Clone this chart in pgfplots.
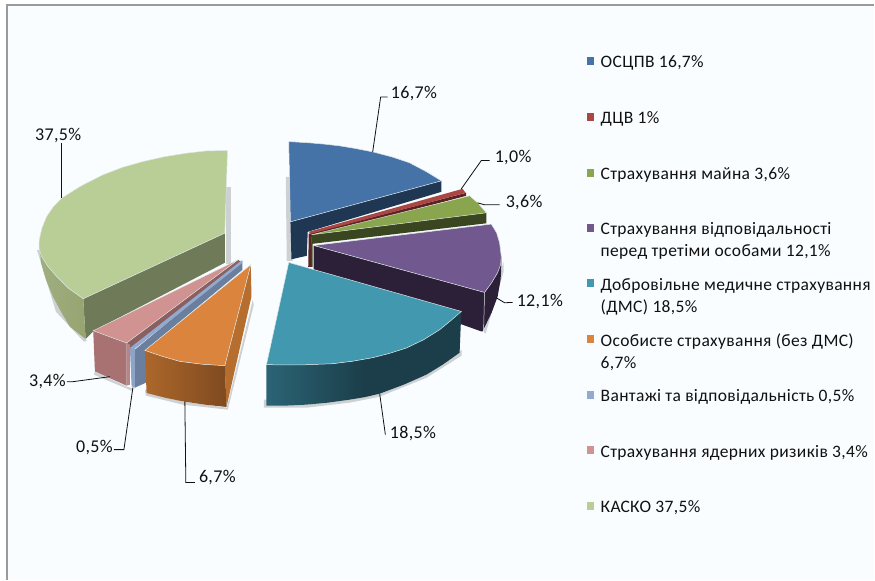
\documentclass[border=0pt]{standalone}
\usepackage{pgfplots}
\usepackage{fontspec}
\setmainfont{Carlito}
\newfontface\legfont[LetterSpace=2]{Carlito}
\newfontface\datfont[LetterSpace=2]{Carlito}
\pgfplotsset{compat=1.18}
\definecolor{bg}{HTML}{F9FDFF}
\definecolor{frm}{HTML}{9A9A9A}
\definecolor{shd}{HTML}{CDD1D3}
\definecolor{bluT}{HTML}{4572A7}\definecolor{bluS}{HTML}{1F3752}
\definecolor{redT}{HTML}{AA4643}\definecolor{redS}{HTML}{5A2422}
\definecolor{grnT}{HTML}{89A54E}\definecolor{grnS}{HTML}{3A461F}
\definecolor{purT}{HTML}{71588F}\definecolor{purS}{HTML}{2C2038}
\definecolor{teaT}{HTML}{4198AF}\definecolor{teaS}{HTML}{1B3E4A}\definecolor{teaL}{HTML}{2B6475}
\definecolor{orgT}{HTML}{DB843D}\definecolor{orgS}{HTML}{B56E2D}\definecolor{orgL}{HTML}{AC672B}\definecolor{orgR}{HTML}{7F4A20}
\definecolor{lblT}{HTML}{93A9CF}\definecolor{lblS}{HTML}{6A7E9E}\definecolor{lblR}{HTML}{8EA3C6}
\definecolor{pnkT}{HTML}{D19392}\definecolor{pnkS}{HTML}{A87172}\definecolor{pnkD}{HTML}{8A5F5F}
\definecolor{olvT}{HTML}{B9CD96}\definecolor{olvS}{HTML}{6F7B58}\definecolor{olvL}{HTML}{A0AF7E}\definecolor{olvR}{HTML}{96A472}
\definecolor{edge}{HTML}{DDE6E6}
\definecolor{ink}{HTML}{111111}
\newcommand{\lab}[2]{\node[anchor=base west,inner sep=0pt,text=ink,font=\legfont\fontsize{17.5}{19}\selectfont] at (axis cs:#1) {#2};}
\newcommand{\dat}[2]{\node[anchor=base west,inner sep=0pt,text=ink,font=\datfont\fontsize{18}{20}\selectfont] at (axis cs:#1) {#2};}
\begin{document}
\begin{tikzpicture}
\begin{axis}[scale only axis,width=875pt,height=580pt,xmin=0,xmax=875,ymin=0,ymax=580,y dir=reverse,hide axis,clip=false]
% background
\addplot[draw=none,fill=white] coordinates {(0,0)(875,0)(875,580)(0,580)} --cycle;
\addplot[draw=none,fill=bg] coordinates {(7,5)(875,5)(875,580)(7,580)} --cycle;
\addplot[frm,line width=1.5pt] coordinates {(7,580)(7,5)(875,5)};
% shadows
\addplot[draw=none,fill=shd] coordinates {(286,177)(291,177)(293,261)(287,261)} --cycle;
\addplot[draw=none,fill=shd] coordinates {(226,187)(231,187)(231,264)(226,264)} --cycle;
\addplot[draw=none,fill=shd] coordinates {(37,250)(41,250)(53,297)(61,312)(87,341)(84,342)(56,312)} --cycle;
\addplot[draw=none,fill=shd] coordinates {(264,400)(268,400)(307,405)(350,400)(380,394)(427,375)(462,350)(462,356)(427,378)(380,397)(350,403)(307,408)(264,408)} --cycle;
\addplot[draw=none,fill=shd] coordinates {(145,390)(183,402)(227,408)(253,300)(254,305)(228,410)(183,405)(146,396)} --cycle;
\addplot[draw=none,fill=shd] coordinates {(95,372)(127,387)(135,389)(131,391)(127,389)(94,375)} --cycle;
\addplot[draw=none,fill=shd] coordinates {(484,332)(504,262)(504,272)(486,334)} --cycle;
% blue
\addplot[draw=none,fill=bluS] coordinates {(290.7,222)(441.7,181)(441.7,192)(308,232)(307,256)(291.7,259.5)} --cycle;
\addplot[draw=edge,line width=0.5pt,fill=bluT] coordinates {(290.7,222)(289,141.7)(310,143)(325,144.3)(340,146)(356,148.7)(373,152)(392,157)(410,163)(427,172)(441.7,181)} --cycle;
% red
\addplot[draw=none,fill=redS] coordinates {(309,234)(466.5,193)(466.5,196)(312,237)(312,267)(308.5,267)} --cycle;
\addplot[draw=none,fill=redT] coordinates {(309,232)(463,189)(466,193)(311,234)} --cycle;
% green
\addplot[draw=none,fill=grnS] coordinates {(311.7,235)(486.7,213)(486.7,223.5)(313,244)(313,267)(311,267)} --cycle;
\addplot[draw=edge,line width=0.4pt,fill=grnT] coordinates {(311.7,235)(470,196)(478,203)(486.7,213)} --cycle;
% purple
\addplot[draw=none,fill=purS] coordinates {(314,245.7)(485,292.7)(501.7,256.7)(501.7,268)(501,280)(498,297)(492,313)(483,331.7)(481.7,331.7)(314,271.7)} --cycle;
\addplot[edge,line width=0.5pt] coordinates {(485,292.7)(484,331)};
\addplot[draw=edge,line width=0.5pt,fill=purT] coordinates {(314,245.7)(491.7,224.3)(497,233)(500,243)(501.7,256.7)(501,265)(498,273)(492,283)(485,292.7)} --cycle;
% teal
\addplot[draw=none,left color=teaL,right color=teaS,middle color=teaS] coordinates {(266.7,365)(300,365.3)(333,364)(353,361.5)(373,358)(390,353.6)(406.7,348.3)(424,340)(440,330)(451,321)(461.7,311.7)(460,353)(443,365)(426.7,375)(404,385)(380,394)(365,397.5)(350,400)(328,403)(306.7,405)(285,406)(266.7,406)} --cycle;
\addplot[draw=edge,line width=0.5pt,fill=teaT] coordinates {(289,262.7)(461.7,311.7)(451,321)(440,330)(424,340)(406.7,348.3)(390,353.6)(373,358)(353,361.5)(333,364)(300,365.3)(266.7,365)} --cycle;
% olive
\addplot[draw=none,fill=olvS] coordinates {(225,233.3)(225,263)(94,331)(85.7,339.3)(83.3,299)} --cycle;
\addplot[draw=none,left color=olvL,right color=olvR] coordinates {(39.3,240)(39.1,248.6)(41.7,256.7)(47.7,266.3)(56.7,276.7)(68.5,288.5)(83.3,299)(85.7,339.3)(70,327)(61,312)(53,297)(46,280)(41,263)} --cycle;
\addplot[draw=edge,line width=0.5pt,fill=olvT] coordinates {(225,233.3)(227.7,150.7)(207,151)(186.7,153.3)(164.8,156.8)(143,161.7)(122.9,167.4)(103,175)(80.8,186.3)(61.7,198.3)(53,207.5)(46.7,216.7)(41.9,228.5)(39.3,240)(39.1,248.6)(41.7,256.7)(47.7,266.3)(56.7,276.7)(68.5,288.5)(83.3,299)} --cycle;
% pink
\addplot[draw=none,fill=pnkD] coordinates {(238.3,260)(241,262)(130,349)(127,343)} --cycle;
\addplot[draw=none,fill=pnkS] coordinates {(93.3,331)(126.7,343.3)(126.7,386)(95,371.7)} --cycle;
\addplot[draw=none,fill=pnkS!85!white] coordinates {(126.7,343.3)(130,345)(130,385)(126.7,386)} --cycle;
\addplot[draw=edge,line width=0.4pt,fill=pnkT] coordinates {(238.3,260)(93.3,331)(126.7,343.3)} --cycle;
% light blue
\addplot[draw=none,fill=lblS] coordinates {(242.7,260.7)(242.7,270)(146,350)(146,383)(135,388)(135,350)} --cycle;
\addplot[draw=none,fill=lblR] coordinates {(130,348.3)(135,348.3)(135,388)(131.7,386.7)} --cycle;
\addplot[draw=none,fill=lblT] coordinates {(241.7,260.7)(130,348.3)(135,349)(242.7,263)} --cycle;
% orange
\addplot[draw=none,fill=orgS] coordinates {(251,265)(251.7,296.7)(226.7,407.3)(225,366)} --cycle;
\addplot[draw=none,left color=orgL,right color=orgR] coordinates {(145,350.7)(162,356.5)(180,361.7)(202,364.5)(225,366)(226.7,407.3)(205,405)(183,401.7)(165,398)(146.7,393.3)} --cycle;
\addplot[draw=edge,line width=0.5pt,fill=orgT] coordinates {(251,265)(145,350.7)(162,356.5)(180,361.7)(202,364.5)(225,366)} --cycle;
% leaders
\addplot[ink,line width=0.8pt] coordinates {(373,152)(381,97)(388,97)};
\addplot[ink,line width=0.8pt] coordinates {(461.7,189)(481.7,160.7)(490,160.7)};
\addplot[ink,line width=0.8pt] coordinates {(478,203)(485,205)(500,205)};
\addplot[ink,line width=0.8pt] coordinates {(496.7,298)(505,303)(513,302.7)};
\addplot[ink,line width=0.8pt] coordinates {(380,394)(385.7,435)};
\addplot[ink,line width=0.8pt] coordinates {(185,401.7)(186,483)(195,483)};
\addplot[ink,line width=0.8pt] coordinates {(133,388)(124,450)(114,450)};
\addplot[ink,line width=0.8pt] coordinates {(110,377)(73,382)(67,382)};
\addplot[ink,line width=0.8pt] coordinates {(61.7,198)(61.7,143)};
% legend squares
\addplot[draw=none,fill=bluT] coordinates {(587,57)(595,57)(595,65)(587,65)} --cycle;
\addplot[draw=none,fill=redT] coordinates {(587,113)(595,113)(595,121)(587,121)} --cycle;
\addplot[draw=none,fill=grnT] coordinates {(587,169)(595,169)(595,177)(587,177)} --cycle;
\addplot[draw=none,fill=purT] coordinates {(587,224)(595,224)(595,232)(587,232)} --cycle;
\addplot[draw=none,fill=teaT] coordinates {(587,279)(595,279)(595,287)(587,287)} --cycle;
\addplot[draw=none,fill=orgT] coordinates {(587,335)(595,335)(595,343)(587,343)} --cycle;
\addplot[draw=none,fill=lblT] coordinates {(587,391)(595,391)(595,399)(587,399)} --cycle;
\addplot[draw=none,fill=pnkT] coordinates {(587,446)(595,446)(595,454)(587,454)} --cycle;
\addplot[draw=none,fill=olvT] coordinates {(587,502)(595,502)(595,510)(587,510)} --cycle;
% legend text
\lab{601,68}{ОСЦПВ 16,7\%}
\lab{601,124}{ДЦВ 1\%}
\lab{601,180}{Страхування майна 3,6\%}
\lab{601,235}{Страхування відповідальності}
\lab{601,257}{перед третіми особами 12,1\%}
\lab{601,291}{Добровільне медичне страхування}
\lab{601,313}{(ДМС) 18,5\%}
\lab{601,347}{Особисте страхування (без ДМС)}
\lab{601,369}{6,7\%}
\lab{601,402}{Вантажі та відповідальність 0,5\%}
\lab{601,458}{Страхування ядерних ризиків 3,4\%}
\lab{601,513}{КАСКО 37,5\%}
% data labels
\dat{391,98.5}{16,7\%}
\dat{495,162.5}{1,0\%}
\dat{506,207.5}{3,6\%}
\dat{517,306.5}{12,1\%}
\dat{390,438.5}{18,5\%}
\dat{199,482.5}{6,7\%}
\dat{76,452.5}{0,5\%}
\dat{29,386.5}{3,4\%}
\dat{35,140.5}{37,5\%}
\end{axis}
\end{tikzpicture}
\end{document}
